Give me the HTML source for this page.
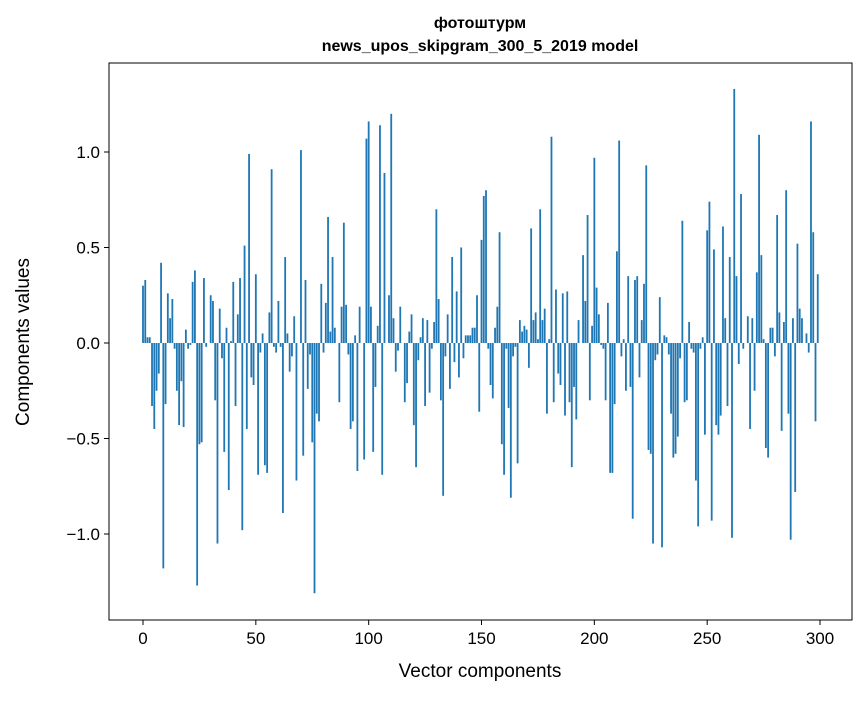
<!DOCTYPE html>
<html><head><meta charset="utf-8"><style>
body{margin:0;background:#fff;font-family:"Liberation Sans","DejaVu Sans",sans-serif}
</style></head><body>
<svg id="chart" width="867" height="696" xmlns="http://www.w3.org/2000/svg">
<rect width="867" height="696" fill="#fff"/>
<text x="480" y="28" text-anchor="middle" font-size="16" font-weight="bold">фотоштурм</text>
<text x="480" y="51" text-anchor="middle" font-size="16" font-weight="bold">news_upos_skipgram_300_5_2019 model</text>
<g id="bars"></g>
<g id="axes"></g>
<rect x="109" y="63" width="743" height="557" fill="none" stroke="#000" stroke-width="1"/>
<text x="480" y="677" text-anchor="middle" font-size="19">Vector components</text>
<text transform="translate(29,342) rotate(-90)" text-anchor="middle" font-size="19">Components values</text>
</svg>
<script>
const values = [0.30,0.33,0.03,0.03,-0.33,-0.45,-0.25,-0.16,0.42,-1.18,-0.32,0.26,0.13,0.23,-0.03,-0.25,-0.43,-0.20,-0.44,0.07,-0.03,-0.01,0.32,0.38,-1.27,-0.53,-0.52,0.34,-0.02,0.0,0.25,0.22,-0.30,-1.05,0.18,-0.08,-0.57,0.08,-0.77,0.01,0.32,-0.33,0.15,0.34,-0.98,0.51,-0.45,0.99,-0.18,-0.22,0.36,-0.69,-0.05,0.05,-0.64,-0.68,0.16,0.91,-0.02,-0.05,0.22,-0.02,-0.89,0.45,0.05,-0.15,-0.07,0.14,-0.72,0.0,1.01,-0.59,0.33,-0.24,-0.06,-0.52,-1.31,-0.37,-0.41,0.31,-0.05,0.21,0.66,0.06,0.45,0.08,0.0,-0.31,0.19,0.63,0.20,-0.06,-0.45,-0.41,0.04,-0.67,0.19,0.0,-0.61,1.07,1.16,0.19,-0.57,-0.23,0.09,1.14,-0.69,0.89,0.0,0.25,1.20,0.13,-0.15,-0.04,0.19,0.0,-0.31,-0.21,0.06,0.15,-0.43,-0.65,-0.09,0.03,0.13,-0.33,0.12,-0.26,-0.03,0.11,0.70,0.23,-0.30,-0.80,-0.07,0.15,-0.24,0.45,-0.10,0.27,-0.18,0.50,-0.08,0.04,0.04,0.04,0.08,0.08,0.25,-0.36,0.54,0.77,0.80,-0.03,-0.22,-0.29,0.08,0.19,0.58,-0.53,-0.69,-0.03,-0.34,-0.81,-0.07,-0.02,-0.63,0.12,0.06,0.09,0.07,-0.13,0.60,0.12,0.16,0.02,0.70,0.12,0.18,-0.37,0.02,1.08,-0.31,0.28,-0.16,-0.22,0.26,-0.38,0.27,-0.31,-0.65,-0.23,-0.40,0.12,0.0,0.46,0.22,0.67,-0.30,0.09,0.97,0.29,0.15,-0.01,-0.03,-0.30,0.21,-0.68,-0.68,-0.32,0.48,1.06,-0.07,0.02,-0.25,0.35,-0.23,-0.92,0.33,0.35,-0.18,0.12,0.31,0.93,-0.56,-0.58,-1.05,-0.09,-0.06,0.24,-1.07,0.04,0.03,-0.06,-0.37,-0.60,-0.58,-0.49,-0.08,0.64,-0.31,-0.30,0.11,-0.03,-0.05,-0.72,-0.96,-0.03,0.03,-0.48,0.59,0.74,-0.93,0.49,-0.43,-0.48,-0.38,0.61,0.13,-0.33,0.45,-1.02,1.33,0.35,-0.11,0.78,-0.03,0.0,0.14,-0.45,0.13,-0.25,0.37,1.09,0.46,0.02,-0.55,-0.60,0.08,0.08,-0.07,0.67,0.16,-0.46,0.11,0.80,-0.37,-1.03,0.13,-0.78,0.52,0.18,0.13,0.0,0.05,-0.05,1.16,0.58,-0.41,0.36];
const yTicks = [-1.0,-0.5,0.0,0.5,1.0];
const yTickLabels = ["−1.0","−0.5","0.0","0.5","1.0"];
const xTicks = [0,50,100,150,200,250,300];
const NS="http://www.w3.org/2000/svg";
function xs(v){return 143+v*2.2567;}
function ys(v){return 343-v*191;}
const bars=document.getElementById('bars');
values.forEach((v,i)=>{
  const r=document.createElementNS(NS,'rect');
  
  
  const w=0.8*2.2567;
  r.setAttribute('x',xs(i)-w/2);
  r.setAttribute('width',w);
  r.setAttribute('y',Math.min(ys(v),ys(0)));
  r.setAttribute('height',Math.abs(ys(v)-ys(0)));
  r.setAttribute('fill','#1f77b4');
  bars.appendChild(r);
});
const axes=document.getElementById('axes');
yTicks.forEach((t,i)=>{
  const l=document.createElementNS(NS,'line');
  
  
  l.setAttribute('x1',104);l.setAttribute('x2',109);
  l.setAttribute('y1',ys(t));l.setAttribute('y2',ys(t));
  l.setAttribute('stroke','#000');
  axes.appendChild(l);
  const tx=document.createElementNS(NS,'text');
  
  
  tx.setAttribute('x',100);tx.setAttribute('y',ys(t)+6);
  tx.setAttribute('text-anchor','end');tx.setAttribute('font-size','17');
  tx.textContent=yTickLabels[i];
  axes.appendChild(tx);
});
xTicks.forEach(t=>{
  const l=document.createElementNS(NS,'line');
  
  
  l.setAttribute('x1',xs(t));l.setAttribute('x2',xs(t));
  l.setAttribute('y1',620);l.setAttribute('y2',625);
  l.setAttribute('stroke','#000');
  axes.appendChild(l);
  const tx=document.createElementNS(NS,'text');
  
  
  tx.setAttribute('x',xs(t));tx.setAttribute('y',644);
  tx.setAttribute('text-anchor','middle');tx.setAttribute('font-size','17');
  tx.textContent=String(t);
  axes.appendChild(tx);
});
</script>
</body></html>
